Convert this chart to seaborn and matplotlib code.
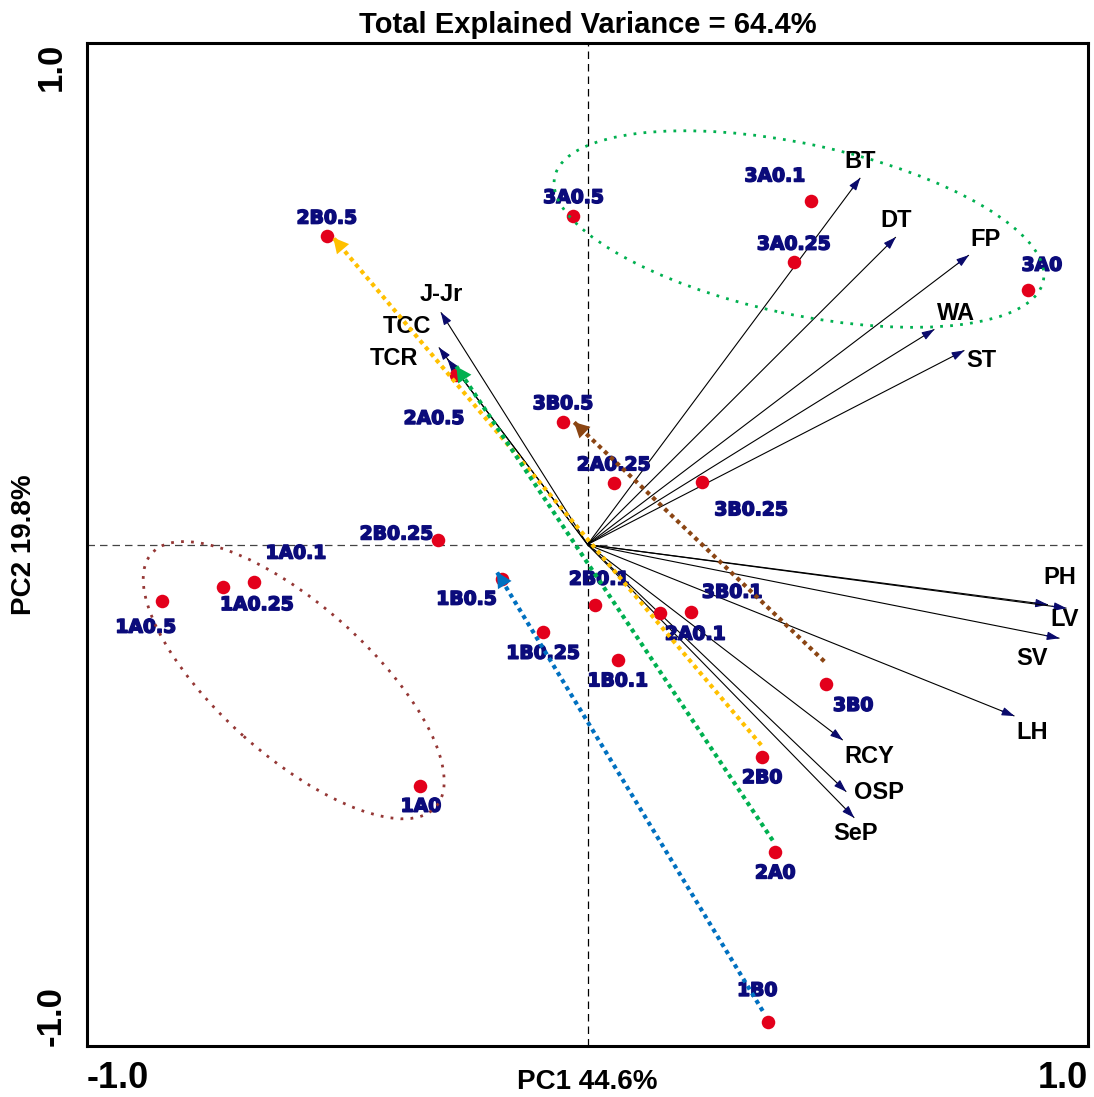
import numpy as np
import pandas as pd
import matplotlib
matplotlib.use("Agg")
import matplotlib.pyplot as plt
import matplotlib.patheffects as pe
from matplotlib.patches import Ellipse
import seaborn as sns

# ------------------------- data -------------------------
sample_names = ['3A0.5', '3A0.1', '3A0.25', '3A0', '2B0.5', '2A0.5', '3B0.5', '2A0.25',
                '3B0.25', '2B0.25', '1A0.1', '1A0.25', '1A0.5', '1A0', '1B0.5', '1B0.25',
                '2B0.1', '2A0.1', '3B0.1', '1B0.1', '3B0', '2B0', '2A0', '1B0']
sample_pc1 = [-0.028, 0.446, 0.412, 0.880, -0.521, -0.263, -0.049, 0.052,
              0.229, -0.298, -0.667, -0.729, -0.851, -0.335, -0.170, -0.089,
              0.015, 0.145, 0.207, 0.060, 0.477, 0.349, 0.375, 0.361]
sample_pc2 = [0.656, 0.685, 0.563, 0.507, 0.615, 0.337, 0.245, 0.123,
              0.125, 0.009, -0.075, -0.084, -0.113, -0.482, -0.069, -0.175,
              -0.121, -0.137, -0.135, -0.230, -0.279, -0.423, -0.613, -0.953]

var_names = ['BT', 'DT', 'FP', 'WA', 'ST', 'J-Jr', 'TCC', 'TCR',
             'PH', 'LV', 'SV', 'LH', 'RCY', 'OSP', 'SeP']
var_pc1 = [0.545, 0.616, 0.762, 0.693, 0.753, -0.293, -0.297, -0.280,
           0.920, 0.957, 0.943, 0.853, 0.510, 0.517, 0.533]
var_pc2 = [0.731, 0.613, 0.577, 0.429, 0.387, 0.463, 0.393, 0.370,
           -0.120, -0.127, -0.187, -0.342, -0.390, -0.493, -0.545]

traj_names = ['2B', '2A', '1B', '3B']
traj_start_pc1 = [0.347, 0.370, 0.350, 0.473]
traj_start_pc2 = [-0.400, -0.590, -0.930, -0.233]
traj_end_pc1 = [-0.508, -0.262, -0.181, -0.027]
traj_end_pc2 = [0.612, 0.355, -0.055, 0.244]

ellipse_groups = ['3A', '1A']
ellipse_cx = [0.4225, -0.587]
ellipse_cy = [0.629, -0.2705]
ellipse_width = [0.998, 0.76]
ellipse_height = [0.34, 0.30]
ellipse_angle = [-12.0, -41.7]

axis_ticks = [-1.0, -0.5, 0.0, 0.5, 1.0]
axis_ticklabels = ['-1.0', '', '', '', '1.0']
title_text = 'Total Explained Variance = 64.4%'
xlabel_text = 'PC1 44.6%'
ylabel_text = 'PC2 19.8%'

# ------------------------- layout / style -------------------------
sample_label_offsets = [(0, 18), (-36, 25), (0, 18), (14, 25), (0, 18), (-22, -43), (0, 18), (0, 18),
                        (49, -28), (-42, 6), (42, 29), (34, -18), (-16, -26), (1, -20), (-36, -20), (0, -21),
                        (4, 26), (35, -21), (41, 20), (0, -21), (27, -21), (0, -21), (0, -21), (-11, 32)]
var_label_offsets = [(0, 16), (0, 17), (17, 16), (22, 16), (17, -10), (0, 18), (-32, 21), (-53, 0),
                     (12, 27), (-2, -11), (-27, -20), (18, -16), (27, -16), (33, -1), (1, -16)]
traj_colors = ['#FFC000', '#00B050', '#0070C0', '#8B4513']
ellipse_colors = ['#00B050', '#953735']
dot_color = '#E3001B'
navy = '#0B0B7B'
head_navy = '#0A0A6B'

sns.set_theme(style='white')
plt.rcParams['font.family'] = ['Liberation Sans', 'DejaVu Sans']
plt.rcParams['text.color'] = 'black'
plt.rcParams['axes.labelcolor'] = 'black'
plt.rcParams['xtick.color'] = 'black'
plt.rcParams['ytick.color'] = 'black'

fig = plt.figure(figsize=(10.94, 10.97), dpi=100)
ax = fig.add_axes([87 / 1094, 51 / 1097, 1001 / 1094, 1003 / 1097])
ax.set_xlim(-1, 1)
ax.set_ylim(-1, 1)

# center dashed lines
ax.axvline(0, color='black', lw=0.9, ls=(0, (6, 4)), zorder=1)
ax.axhline(0, color='#444444', lw=0.9, ls=(0, (6, 4)), zorder=1)

# variable loading arrows
for name, x, y, (dx, dy) in zip(var_names, var_pc1, var_pc2, var_label_offsets):
    ax.plot([0, x], [0, y], color='black', lw=0.8, zorder=2, solid_capstyle='butt')
    ax.annotate('', xy=(x, y), xytext=(x * 0.97, y * 0.97),
                arrowprops=dict(arrowstyle='-|>,head_length=0.5,head_width=0.17',
                                color=head_navy, lw=0.8, mutation_scale=15,
                                shrinkA=0, shrinkB=0), zorder=2)
    ax.annotate(name, (x, y), xytext=(dx, dy), textcoords='offset pixels',
                ha='center', va='center', fontsize=17, fontweight='bold',
                color='black', zorder=3)

# sample points through seaborn
df = pd.DataFrame({'name': sample_names, 'PC1': sample_pc1, 'PC2': sample_pc2})
sns.scatterplot(data=df, x='PC1', y='PC2', color=dot_color, s=95, linewidth=0,
                ax=ax, legend=False, zorder=3)

for name, x, y, (dx, dy) in zip(sample_names, sample_pc1, sample_pc2, sample_label_offsets):
    ax.annotate(name, (x, y), xytext=(dx, dy), textcoords='offset pixels',
                ha='center', va='center', fontsize=13.5, fontweight='bold',
                family='DejaVu Sans', color=navy, zorder=2,
                path_effects=[pe.withStroke(linewidth=1.1, foreground=navy)])

# group ellipses
for cx, cy, w, h, ang, col in zip(ellipse_cx, ellipse_cy, ellipse_width, ellipse_height,
                                  ellipse_angle, ellipse_colors):
    e = Ellipse((cx, cy), w, h, angle=ang, fill=False, edgecolor=col, lw=2.0,
                ls=(0, (1, 2.6)), zorder=4)
    ax.add_patch(e)

# dose trajectory arrows
for x0, y0, x1, y1, col in zip(traj_start_pc1, traj_start_pc2, traj_end_pc1, traj_end_pc2, traj_colors):
    ax.plot([x0, x1], [y0, y1], color=col, lw=3.0, ls=(0, (1, 1)), zorder=5)
    ax.annotate('', xy=(x1, y1), xytext=(x1 + (x0 - x1) * 0.03, y1 + (y0 - y1) * 0.03),
                arrowprops=dict(arrowstyle='-|>,head_length=0.42,head_width=0.22',
                                color=col, lw=0, mutation_scale=26,
                                shrinkA=0, shrinkB=0), zorder=6)

# axes styling
for sp in ax.spines.values():
    sp.set_linewidth(2.2)
    sp.set_color('black')
    sp.set_visible(True)

ax.set_xticks(axis_ticks)
ax.set_yticks(axis_ticks)
ax.set_xticklabels(axis_ticklabels, fontsize=26, fontweight='bold')
ax.set_yticklabels(axis_ticklabels, fontsize=25, fontweight='bold', rotation=90, va='center')
xt = ax.get_xticklabels()
xt[0].set_ha('left')
xt[-1].set_ha('right')
yt = ax.get_yticklabels()
yt[0].set_va('bottom')
yt[-1].set_va('top')
ax.tick_params(axis='both', direction='inout', length=10, width=1.5, color='black')
ax.tick_params(axis='x', pad=6)
ax.tick_params(axis='y', pad=9)

ax.set_xlabel(xlabel_text, fontsize=20, fontweight='bold')
ax.xaxis.set_label_coords(0.5, -0.023)
ax.set_ylabel(ylabel_text, fontsize=20, fontweight='bold')
ax.yaxis.set_label_coords(-0.050, 0.5)
ax.set_title(title_text, fontsize=21, fontweight='bold', pad=7)

fig.savefig('out.png', dpi=100)
